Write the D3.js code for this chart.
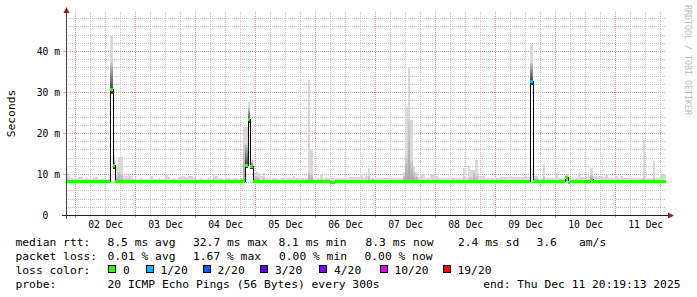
<!DOCTYPE html>
<html>
<head>
<meta charset="utf-8">
<script src="https://cdn.jsdelivr.net/npm/d3@7"></script>
<style>
  html, body { margin: 0; padding: 0; background: #fff; }
  svg { display: block; }
  text { font-family: "DejaVu Sans Mono", monospace; white-space: pre; }
</style>
</head>
<body>
<div id="chart"></div>
<script>
// hourly consolidated bins, the first one starts Dec 1 20:00 (local time)
const binStart = new Date(2025, 11, 1, 20, 0, 0);

// median round trip time per bin, ms
const medianMs = [
  8.2, 8.2, 8.2, 8.2, 8.2, 8.2, 8.2, 8.2, 8.2, 8.2, 8.2, 8.2, 8.2, 8.2, 8.2, 8.2, 8.2, 8.2, 30.7, 12.2,
  8.2, 8.2, 8.2, 8.2, 8.2, 8.2, 8.2, 8.2, 8.2, 8.2, 8.3, 8.3, 8.2, 8.2, 8.2, 8.2, 8.2, 8.2, 8.2, 8.2,
  8.2, 8.2, 8.2, 8.2, 8.3, 8.3, 8.2, 8.2, 8.2, 8.2, 8.2, 8.2, 8.2, 8.2, 8.2, 8.2, 8.2, 8.2, 8.2, 8.2,
  8.2, 8.2, 8.2, 8.2, 8.2, 8.2, 8.2, 8.2, 8.2, 8.2, 8.2, 8.2, 12.2, 23.5, 12.0, 8.2, 8.2, 8.2, 8.2, 8.2,
  8.2, 8.2, 8.2, 8.2, 8.2, 8.2, 8.2, 8.2, 8.2, 8.2, 8.2, 8.2, 8.2, 8.2, 8.2, 8.2, 8.2, 8.2, 8.2, 8.2,
  8.2, 8.2, 8.2, 8.2, 8.2, 8.2, 8.1, 8.1, 8.2, 8.2, 8.2, 8.2, 8.2, 8.2, 8.2, 8.2, 8.2, 8.2, 8.2, 8.2,
  8.2, 8.2, 8.2, 8.2, 8.2, 8.2, 8.2, 8.2, 8.2, 8.2, 8.2, 8.2, 8.2, 8.2, 8.2, 8.2, 8.2, 8.2, 8.2, 8.2,
  8.2, 8.2, 8.2, 8.2, 8.2, 8.2, 8.2, 8.2, 8.2, 8.2, 8.2, 8.2, 8.2, 8.2, 8.2, 8.2, 8.2, 8.2, 8.2, 8.2,
  8.2, 8.2, 8.2, 8.2, 8.2, 8.2, 8.2, 8.2, 8.2, 8.2, 8.2, 8.2, 8.2, 8.2, 8.2, 8.2, 8.2, 8.2, 8.2, 8.2,
  8.2, 8.2, 8.2, 8.2, 8.2, 8.2, 32.7, 8.2, 8.2, 8.2, 8.2, 8.2, 8.2, 8.2, 8.2, 8.2, 8.2, 8.2, 8.2, 8.2,
  9.2, 8.1, 8.2, 8.2, 8.2, 8.2, 8.2, 8.2, 8.2, 8.2, 8.9, 8.2, 8.2, 8.2, 8.2, 8.2, 8.2, 8.2, 8.2, 8.2,
  8.2, 8.2, 8.2, 8.2, 8.2, 8.2, 8.2, 8.2, 8.2, 8.2, 8.2, 8.2, 8.2, 8.2, 8.2, 8.2, 8.3, 8.3, 8.3, 8.3,
  8.3
];

// fastest ping of the bin, ms
const smokeLoMs = [
  7.9, 7.9, 7.9, 7.9, 7.9, 7.9, 7.9, 7.9, 7.9, 7.9, 7.9, 7.9, 7.9, 7.9, 7.9, 7.9, 7.9, 7.9, 29.6, 11.2,
  7.9, 7.9, 7.9, 7.9, 7.9, 7.9, 7.9, 7.9, 7.9, 7.9, 7.9, 7.9, 7.9, 7.9, 7.9, 7.9, 7.9, 7.9, 7.9, 7.9,
  7.9, 7.9, 7.9, 7.9, 7.9, 7.9, 7.9, 7.9, 7.9, 7.9, 7.9, 7.9, 7.9, 7.9, 7.9, 7.9, 7.9, 7.9, 7.9, 7.9,
  7.9, 7.9, 7.9, 7.9, 7.9, 7.9, 7.9, 7.9, 7.9, 7.9, 7.9, 7.9, 11.4, 22.4, 11.2, 7.9, 7.9, 7.9, 7.9, 7.9,
  7.9, 7.9, 7.9, 7.9, 7.9, 7.9, 7.9, 7.9, 7.9, 7.9, 7.9, 7.9, 7.9, 7.9, 7.9, 7.9, 7.9, 7.9, 7.9, 7.9,
  7.9, 7.9, 7.9, 7.9, 7.9, 7.9, 7.9, 7.9, 7.9, 7.9, 7.9, 7.9, 7.9, 7.9, 7.9, 7.9, 7.9, 7.9, 7.9, 7.9,
  7.9, 7.9, 7.9, 7.9, 7.9, 7.9, 7.9, 7.9, 7.9, 7.9, 7.9, 7.9, 7.9, 7.9, 7.9, 7.9, 7.9, 7.9, 7.9, 7.9,
  7.9, 7.9, 7.9, 7.9, 7.9, 7.9, 7.9, 7.9, 7.9, 7.9, 7.9, 7.9, 7.9, 7.9, 7.9, 7.9, 7.9, 7.9, 7.9, 7.9,
  7.9, 7.9, 7.9, 7.9, 7.9, 7.9, 7.9, 7.9, 7.9, 7.9, 7.9, 7.9, 7.9, 7.9, 7.9, 7.9, 7.9, 7.9, 7.9, 7.9,
  7.9, 7.9, 7.9, 7.9, 7.9, 7.9, 31.8, 7.9, 7.9, 7.9, 7.9, 7.9, 7.9, 7.9, 7.9, 7.9, 7.9, 7.9, 7.9, 7.9,
  8.4, 7.9, 7.9, 7.9, 7.9, 7.9, 7.9, 7.9, 7.9, 7.9, 8.2, 7.9, 7.9, 7.9, 7.9, 7.9, 7.9, 7.9, 7.9, 7.9,
  7.9, 7.9, 7.9, 7.9, 7.9, 7.9, 7.9, 7.9, 7.9, 7.9, 7.9, 7.9, 7.9, 7.9, 7.9, 7.9, 7.9, 7.9, 7.9, 7.9,
  7.9
];

// top of the dense middle pings, ms
const smokeCoreMs = [
  9.0, 8.6, 8.6, 8.6, 8.6, 8.6, 8.6, 8.6, 8.6, 8.6, 8.6, 8.6, 8.6, 8.6, 8.6, 8.6, 8.6, 8.6, 37.0, 13.5,
  10.0, 10.5, 10.0, 8.8, 8.8, 8.8, 8.8, 8.6, 8.6, 8.6, 8.6, 8.6, 8.6, 8.6, 8.6, 8.6, 8.6, 8.6, 8.6, 8.6,
  8.6, 8.6, 8.6, 8.6, 8.6, 8.6, 8.6, 8.6, 8.6, 8.6, 8.6, 8.6, 8.6, 8.6, 8.6, 8.6, 8.6, 8.6, 8.6, 9.0,
  8.6, 8.6, 8.6, 8.6, 8.6, 8.6, 8.6, 8.6, 8.6, 8.6, 8.6, 17.0, 17.0, 26.0, 13.0, 9.6, 9.6, 9.0, 8.6, 9.0,
  8.6, 8.6, 8.6, 8.6, 8.6, 8.6, 8.6, 8.6, 8.6, 8.6, 8.6, 8.6, 8.6, 8.6, 8.6, 8.6, 8.6, 10.5, 10.0, 8.6,
  8.6, 8.6, 8.6, 8.6, 8.6, 8.6, 8.6, 8.6, 8.6, 8.6, 8.6, 8.6, 8.6, 8.6, 8.6, 8.6, 8.6, 8.6, 8.6, 8.6,
  8.6, 9.6, 8.6, 8.6, 8.6, 8.6, 8.6, 8.6, 8.6, 8.6, 8.6, 8.6, 8.6, 8.6, 8.6, 9.5, 14.0, 23.0, 13.0, 10.5,
  9.6, 8.6, 8.6, 8.6, 8.6, 8.6, 8.6, 8.6, 8.6, 8.6, 8.6, 8.6, 8.6, 8.6, 8.6, 8.6, 8.6, 8.6, 8.6, 9.0,
  8.6, 9.0, 9.0, 10.2, 9.8, 8.6, 8.6, 8.6, 8.6, 8.6, 8.6, 8.6, 8.6, 8.6, 8.6, 8.6, 8.6, 8.6, 8.6, 8.6,
  8.6, 8.6, 8.6, 8.6, 8.6, 8.6, 37.0, 9.0, 9.0, 8.6, 8.6, 9.6, 8.6, 8.6, 8.6, 8.6, 8.6, 8.6, 8.6, 8.6,
  9.5, 8.6, 8.6, 8.6, 8.6, 8.6, 8.6, 8.6, 8.6, 8.6, 9.8, 8.6, 8.6, 8.6, 8.6, 8.6, 8.6, 8.6, 8.6, 8.6,
  8.6, 8.6, 8.6, 8.6, 8.6, 8.6, 8.6, 8.6, 8.6, 8.6, 8.6, 9.2, 8.6, 8.6, 8.6, 9.2, 8.6, 8.6, 8.6, 8.6,
  8.6
];

// slowest ping of the bin, ms
const smokeHiMs = [
  10.3, 9.6, 9.0, 9.0, 9.0, 9.2, 9.2, 8.9, 9.0, 8.9, 8.9, 9.0, 9.2, 8.9, 8.9, 8.9, 8.9, 8.9, 43.7, 14.6,
  12.0, 14.2, 14.2, 9.6, 9.6, 9.7, 9.6, 8.9, 8.9, 8.9, 9.0, 8.9, 8.9, 8.9, 9.4, 8.9, 8.9, 9.0, 8.9, 8.9,
  9.8, 9.2, 8.9, 9.0, 8.9, 9.3, 9.4, 9.5, 9.3, 9.4, 9.4, 9.3, 8.9, 8.9, 9.0, 8.9, 8.9, 9.0, 8.9, 10.1,
  9.5, 9.0, 9.0, 8.9, 9.0, 9.0, 8.9, 9.0, 9.0, 8.9, 9.0, 21.5, 21.5, 27.6, 13.5, 10.6, 10.6, 10.2, 9.6, 10.2,
  9.0, 9.0, 9.1, 9.0, 9.0, 8.9, 9.0, 9.0, 9.0, 9.0, 9.1, 9.6, 9.0, 9.0, 9.0, 9.0, 9.1, 32.9, 15.9, 9.0,
  9.0, 9.1, 10.0, 9.0, 9.0, 9.0, 9.0, 9.0, 9.0, 9.0, 9.0, 9.0, 9.0, 9.2, 9.2, 9.2, 9.2, 9.2, 10.0, 9.2,
  9.4, 11.4, 9.1, 9.0, 9.0, 9.0, 9.0, 9.0, 9.0, 9.0, 9.0, 9.0, 9.0, 9.0, 9.1, 10.5, 26.4, 36.2, 23.2, 11.8,
  10.6, 9.2, 10.1, 10.1, 9.0, 9.0, 10.1, 10.1, 9.6, 9.0, 9.0, 9.0, 9.0, 9.0, 9.0, 9.0, 9.0, 9.0, 9.0, 11.4,
  9.2, 11.6, 11.0, 11.0, 13.4, 9.5, 9.4, 9.4, 9.0, 9.0, 9.0, 9.0, 9.0, 9.0, 9.3, 9.3, 9.3, 9.3, 9.3, 9.3,
  9.3, 9.2, 9.2, 9.2, 9.2, 9.2, 41.5, 9.4, 9.4, 9.0, 9.0, 12.4, 9.0, 9.0, 9.0, 9.0, 10.2, 9.0, 9.0, 9.0,
  9.8, 9.0, 9.0, 9.0, 9.0, 10.2, 9.2, 9.2, 9.2, 9.2, 11.5, 9.6, 9.6, 9.6, 9.6, 9.2, 10.1, 9.0, 9.0, 9.0,
  9.4, 9.0, 9.4, 9.0, 9.0, 9.0, 9.0, 9.0, 9.0, 9.0, 9.0, 18.3, 9.0, 9.0, 9.0, 13.2, 9.0, 9.0, 9.9, 9.9,
  9.9
];

// bins that lost pings (index into the bin arrays) and how many of 20
const lossBinIndex = [186];
const lossBinPings = [1];

const yTickValues = [0, 10, 20, 30, 40];
const yTickNumbers = ['0', '10', '20', '30', '40'];
const yTickUnits = ['', 'm', 'm', 'm', 'm'];
const dayLabels = ['02 Dec', '03 Dec', '04 Dec', '05 Dec', '06 Dec', '07 Dec', '08 Dec', '09 Dec', '10 Dec', '11 Dec'];

const rttStats = ['8.5 ms avg', '32.7 ms max', '8.1 ms min', '8.3 ms now', '2.4 ms sd', '3.6', 'am/s'];
const lossStats = ['0.01 % avg', '1.67 % max', '0.00 % min', '0.00 % now'];
const lossLabels = ['0', '1/20', '2/20', '3/20', '4/20', '10/20', '19/20'];
const lossThresholds = [0, 1, 2, 3, 4, 10, 19];
const lossColors = ['#26ff00', '#00b8ff', '#0059ff', '#5e00ff', '#7e00ff', '#dd00ff', '#ff0000'];
const probeText = '20 ICMP Echo Pings (56 Bytes) every 300s';
const endText = 'end: Thu Dec 11 20:19:13 2025';

function buildChart() {
    const width = 697, height = 297;
    const plot = {left: 66, right: 666, top: 12, bottom: 215};
    const tStart = new Date(2025, 11, 1, 20, 19, 13);
    const tEnd = new Date(2025, 11, 11, 20, 19, 13);

    const x = d3.scaleTime().domain([tStart, tEnd]).range([plot.left, plot.right]);
    const y = d3.scaleLinear().domain([0, 49.5]).range([plot.bottom, plot.top]);

    const bins = medianMs.map((m, j) => ({
        t0: d3.timeHour.offset(binStart, j),
        t1: d3.timeHour.offset(binStart, j + 1),
        median: m, lo: smokeLoMs[j], core: smokeCoreMs[j], hi: smokeHiMs[j], loss: 0
    }));
    lossBinIndex.forEach((j, k) => { bins[j].loss = lossBinPings[k]; });

    const lossColor = n => lossColors[d3.bisectRight(lossThresholds, n) - 1];

    const svg = d3.select('#chart').append('svg')
        .attr('width', width)
        .attr('height', height)
        .attr('xml:space', 'preserve');

    const defs = svg.append('defs');
    defs.append('clipPath').attr('id', 'plotClip')
        .append('rect')
        .attr('x', plot.left).attr('y', plot.top)
        .attr('width', plot.right - plot.left).attr('height', plot.bottom - plot.top);

    const gradient = (id, bottom, top) => {
        const g = defs.append('linearGradient').attr('id', id)
            .attr('x1', 0).attr('y1', 1).attr('x2', 0).attr('y2', 0);
        g.append('stop').attr('offset', 0).attr('stop-color', bottom);
        g.append('stop').attr('offset', 1).attr('stop-color', top);
    };
    gradient('coreDark', '#303030', '#c4c4c4');
    gradient('coreSoft', '#a2a2a2', '#cdcdcd');

    const px = v => Math.round(v) + 0.5;

    // grid, behind everything
    const grid = svg.append('g').attr('clip-path', 'url(#plotClip)')
        .attr('stroke-dasharray', '1,1').attr('fill', 'none').attr('shape-rendering', 'crispEdges');

    const majorTimes = d3.timeDay.range(tStart, tEnd);
    const minorTimes = d3.timeHour.every(6).range(tStart, tEnd).filter(d => d.getHours() !== 0);
    const majorMs = y.ticks(5).filter(v => v > 0);
    const minorMs = y.ticks(25).filter(v => v > 0 && v % 10 !== 0);

    grid.selectAll('.vmin').data(minorTimes).enter().append('line')
        .attr('x1', d => px(x(d))).attr('x2', d => px(x(d)))
        .attr('y1', plot.top).attr('y2', plot.bottom)
        .attr('stroke', '#c4c4c4');
    grid.selectAll('.hmin').data(minorMs).enter().append('line')
        .attr('x1', plot.left).attr('x2', plot.right)
        .attr('y1', d => px(y(d))).attr('y2', d => px(y(d)))
        .attr('stroke', '#c4c4c4');
    grid.selectAll('.vmaj').data(majorTimes).enter().append('line')
        .attr('x1', d => px(x(d))).attr('x2', d => px(x(d)))
        .attr('y1', plot.top).attr('y2', plot.bottom)
        .attr('stroke', '#e49a9a');
    grid.selectAll('.hmaj').data(majorMs).enter().append('line')
        .attr('x1', plot.left).attr('x2', plot.right)
        .attr('y1', d => px(y(d))).attr('y2', d => px(y(d)))
        .attr('stroke', '#e49a9a');

    // smoke
    const graph = svg.append('g').attr('clip-path', 'url(#plotClip)').attr('shape-rendering', 'crispEdges');
    const bx0 = b => Math.round(x(b.t0));
    const bx1 = b => Math.round(x(b.t1));

    graph.selectAll('.smoke').data(bins).enter().append('rect')
        .attr('x', bx0).attr('width', b => bx1(b) - bx0(b))
        .attr('y', b => Math.round(y(b.hi)))
        .attr('height', b => Math.round(y(b.lo)) - Math.round(y(b.hi)))
        .attr('fill', '#d8d8d8');

    graph.selectAll('.core').data(bins).enter().append('rect')
        .attr('x', bx0).attr('width', b => bx1(b) - bx0(b))
        .attr('y', b => Math.round(y(b.core)))
        .attr('height', b => Math.round(y(b.lo)) - Math.round(y(b.core)))
        .attr('fill', b => b.median > 9.5 ? 'url(#coreDark)' : 'url(#coreSoft)');

    // median line
    const last = bins[bins.length - 1];
    const medianPts = bins.map(b => [x(b.t0), b.median]).concat([[x(last.t1), last.median]]);
    const medianLine = d3.line()
        .x(d => px(d[0]))
        .y(d => px(y(d[1])))
        .curve(d3.curveStepAfter);
    graph.append('path')
        .attr('d', medianLine(medianPts))
        .attr('fill', 'none')
        .attr('stroke', '#000')
        .attr('stroke-width', 1);

    // loss coloured median band
    graph.selectAll('.band').data(bins).enter().append('rect')
        .attr('x', bx0).attr('width', b => bx1(b) - bx0(b))
        .attr('y', b => Math.round(y(b.median)) - 1)
        .attr('height', 3)
        .attr('fill', b => lossColor(b.loss));

    // axis tick marks outside the plot
    const ticks = svg.append('g').attr('shape-rendering', 'crispEdges');
    ticks.selectAll('.ty').data(majorMs).enter().append('line')
        .attr('x1', plot.left - 3).attr('x2', plot.left)
        .attr('y1', d => px(y(d))).attr('y2', d => px(y(d)))
        .attr('stroke', '#e49a9a');
    ticks.selectAll('.tx').data(majorTimes).enter().append('line')
        .attr('x1', d => px(x(d))).attr('x2', d => px(x(d)))
        .attr('y1', plot.bottom).attr('y2', plot.bottom + 3)
        .attr('stroke', '#e49a9a');

    // axis lines and arrows
    svg.append('path')
        .attr('d', `M${plot.left + 0.5},${plot.bottom + 4}V${plot.top - 3}`)
        .attr('stroke', '#404040').attr('fill', 'none').attr('shape-rendering', 'crispEdges');
    svg.append('path')
        .attr('d', `M${plot.left - 4},${plot.bottom + 0.5}H${plot.right + 3}`)
        .attr('stroke', '#202020').attr('fill', 'none').attr('shape-rendering', 'crispEdges');
    svg.append('path')
        .attr('d', `M${plot.left - 2.5},${plot.top + 1}L${plot.left + 3.5},${plot.top + 1}L${plot.left + 0.5},${plot.top - 5}Z`)
        .attr('fill', '#9e1c1c');
    svg.append('path')
        .attr('d', `M${plot.right + 2},${plot.bottom - 2.5}L${plot.right + 2},${plot.bottom + 3.5}L${plot.right + 8},${plot.bottom + 0.5}Z`)
        .attr('fill', '#9e1c1c');

    // axis labels
    const yAxis = svg.append('g')
        .attr('transform', `translate(${plot.left},0)`)
        .call(d3.axisLeft(y).tickValues(yTickValues).tickSize(0).tickPadding(6)
            .tickFormat((d, i) => yTickNumbers[i] + ' ' + (yTickUnits[i] || ' ')));
    yAxis.select('.domain').remove();
    yAxis.selectAll('text')
        .attr('font-family', '"DejaVu Sans Mono", monospace')
        .attr('font-size', '9.7px')
        .attr('fill', '#000');

    const noonDates = majorTimes.map(d => d3.timeHour.offset(d, 12));
    const xAxis = svg.append('g')
        .attr('transform', `translate(0,${plot.bottom})`)
        .call(d3.axisBottom(x).tickValues(noonDates).tickSize(0).tickPadding(6)
            .tickFormat((d, i) => dayLabels[i]));
    xAxis.select('.domain').remove();
    xAxis.selectAll('text')
        .attr('font-family', '"DejaVu Sans Mono", monospace')
        .attr('font-size', '9.7px')
        .attr('fill', '#000');

    svg.append('text')
        .attr('transform', 'translate(15,113.5) rotate(-90)')
        .attr('text-anchor', 'middle')
        .attr('font-size', '11.3px')
        .attr('fill', '#000')
        .text('Seconds');

    svg.append('text')
        .attr('transform', 'translate(684.5,5) rotate(90)')
        .attr('font-size', '8.3px')
        .attr('fill', '#bcbcbc')
        .text('RRDTOOL / TOBI OETIKER');

    // legend
    const legend = svg.append('g').attr('font-size', '11.3px').attr('fill', '#000');
    const rowY = [245.5, 259.5, 273.5, 287.5];
    const rttCols = [107.5, 193, 278.5, 365.5, 458, 536.5, 579];
    const lossCols = [107.5, 193, 279, 364.5];
    const swatchCols = [108, 145.5, 202.5, 260, 319, 379.5, 442.5];

    ['median rtt:', 'packet loss:', 'loss color:', 'probe:'].forEach((t, i) => {
        legend.append('text').attr('x', 15.5).attr('y', rowY[i]).text(t);
    });
    legend.selectAll('.rtt').data(rttStats).enter().append('text')
        .attr('x', (d, i) => rttCols[i]).attr('y', rowY[0]).text(d => d);
    legend.selectAll('.loss').data(lossStats).enter().append('text')
        .attr('x', (d, i) => lossCols[i]).attr('y', rowY[1]).text(d => d);

    const sw = legend.selectAll('.sw').data(lossLabels).enter().append('g')
        .attr('transform', (d, i) => `translate(${swatchCols[i]},0)`);
    sw.append('rect')
        .attr('x', 0.5).attr('y', rowY[2] - 8)
        .attr('width', 7).attr('height', 7)
        .attr('fill', (d, i) => lossColors[i])
        .attr('stroke', '#000').attr('shape-rendering', 'crispEdges');
    sw.append('text').attr('x', 15).attr('y', rowY[2]).text(d => d);

    legend.append('text').attr('x', 107.5).attr('y', rowY[3]).text(probeText);
    legend.append('text').attr('x', 680.5).attr('y', rowY[3]).attr('text-anchor', 'end').text(endText);
}

buildChart();
</script>
</body>
</html>
